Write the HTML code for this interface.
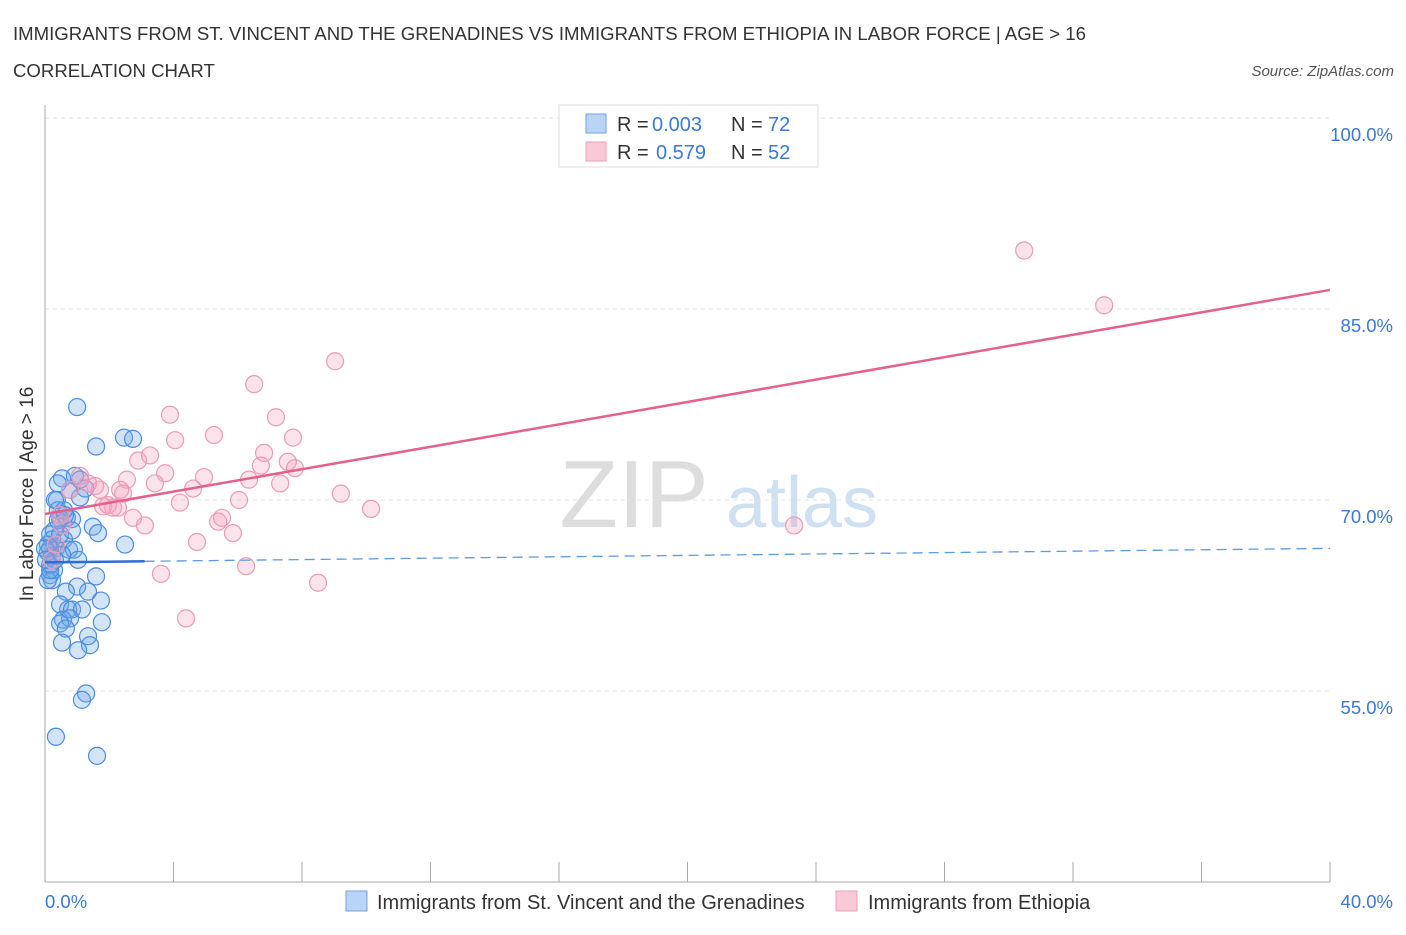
<!DOCTYPE html>
<html><head><meta charset="utf-8"><style>
body{margin:0;background:#fff;font-family:"Liberation Sans",sans-serif;}
svg text{font-family:"Liberation Sans",sans-serif;}
</style></head><body>
<svg id="chart" width="1406" height="930">
<text x="13" y="40" font-size="18.6" fill="#333">IMMIGRANTS FROM ST. VINCENT AND THE GRENADINES VS IMMIGRANTS FROM ETHIOPIA IN LABOR FORCE | AGE &gt; 16</text>
<text x="13" y="77" font-size="18.6" fill="#333">CORRELATION CHART</text>
<text x="1394" y="76" font-size="15" fill="#555" font-style="italic" text-anchor="end">Source: ZipAtlas.com</text>
<text x="634" y="527" font-size="96" fill="#ddd" font-family="Liberation Serif" text-anchor="middle">ZIP</text>
<text x="802" y="527" font-size="72" fill="#cfe0f3" text-anchor="middle">atlas</text>
<g id="grid"></g>
<g id="axes"></g>
<g id="marks"></g>
<text transform="translate(33,494) rotate(-90)" font-size="19" fill="#333" text-anchor="middle">In Labor Force | Age &gt; 16</text>
<text x="45" y="908" font-size="18.5" fill="#3b78d8">0.0%</text>
<text x="1393" y="908" font-size="18.5" fill="#3b78d8" text-anchor="end">40.0%</text>
<g>
<rect x="559" y="105" width="259" height="62" fill="#fff" stroke="#ddd"/>
<rect x="586" y="114" width="20" height="19" fill="#b9d4f5" stroke="#6fa3e3"/>
<rect x="586" y="142" width="20" height="19" fill="#f9c9d8" stroke="#ee9db8"/>
<text x="617" y="131" font-size="20" fill="#333">R =</text>
<text x="652" y="131" font-size="20" fill="#3b78d8">0.003</text>
<text x="731" y="131" font-size="20" fill="#333">N =</text>
<text x="768" y="131" font-size="20" fill="#3b78d8">72</text>
<text x="617" y="159" font-size="20" fill="#333">R =</text>
<text x="656" y="159" font-size="20" fill="#3b78d8">0.579</text>
<text x="731" y="159" font-size="20" fill="#333">N =</text>
<text x="768" y="159" font-size="20" fill="#3b78d8">52</text>
</g>
<g>
<rect x="346" y="891" width="21" height="20" fill="#b9d4f5" stroke="#6fa3e3"/>
<text x="377" y="909" font-size="20" fill="#333">Immigrants from St. Vincent and the Grenadines</text>
<rect x="836" y="891" width="21" height="20" fill="#f9c9d8" stroke="#ee9db8"/>
<text x="868" y="909" font-size="20" fill="#333">Immigrants from Ethiopia</text>
</g>
</svg>
<script>
const blueX=[1.00,1.59,2.46,2.74,2.49,0.53,0.40,0.93,0.37,1.09,0.68,0.84,0.40,0.47,0.28,0.22,0.34,0.59,0.75,0.90,1.49,1.65,0.16,0.22,0.16,0.28,0.16,0.22,1.59,1.00,0.65,1.34,1.74,0.47,0.72,0.84,1.15,0.56,0.78,0.47,0.65,1.77,1.34,1.40,0.53,1.03,1.28,1.15,0.34,1.62,0.09,0.09,0.16,0.40,0.59,0.78,1.09,1.25,0.31,0.47,0.09,0.16,0.53,0.0,0.03,0.31,0.62,0.84,1.03];
const blueY=[77.3,74.2,74.9,74.8,66.5,71.7,71.3,71.9,70.0,70.2,68.6,68.5,69.2,68.5,67.6,66.9,66.2,66.9,66.1,66.1,67.9,67.4,66.2,65.6,64.9,64.5,64.1,63.7,64.0,63.2,62.8,62.8,62.1,61.8,61.4,61.4,61.4,60.6,60.7,60.3,59.9,60.4,59.3,58.6,58.8,58.2,54.8,54.3,51.4,49.9,66.5,65.9,67.3,68.4,69.2,70.8,71.6,70.9,65.3,67.3,63.7,64.5,65.7,66.2,65.3,70.0,68.8,67.6,65.3];
const pinkX=[9.03,6.51,3.89,7.19,4.05,5.26,7.72,2.90,3.27,3.74,2.55,3.42,4.95,6.35,6.82,6.72,7.56,7.78,7.32,4.61,6.04,4.20,2.43,9.21,10.15,2.74,3.11,5.51,5.39,5.85,4.73,6.26,8.50,3.61,4.39,1.81,2.12,2.27,30.48,32.97,23.32,1.09,1.34,1.71,0.78,0.47,0.34,0.53,1.56,1.96,0.22,2.34];
const pinkY=[80.9,79.1,76.7,76.5,74.7,75.1,74.9,73.1,73.5,72.1,71.6,71.3,71.8,71.6,73.7,72.7,73.0,72.5,71.3,70.9,70.0,69.8,70.5,70.5,69.3,68.6,68.0,68.6,68.3,67.4,66.7,64.8,63.5,64.2,60.7,69.5,69.4,69.4,89.6,85.3,68.0,71.9,71.3,70.8,70.8,68.8,66.5,68.0,71.1,69.6,65.3,70.8];
const yTicks=[100,85,70,55];
const yTickLabels=["100.0%","85.0%","70.0%","55.0%"];
const xTicks=[0,4,8,12,16,20,24,28,32,36,40];
const blueTrend=[65.1,66.2];
const pinkTrend=[68.9,86.5];
const NS="http://www.w3.org/2000/svg";
function sx(v){return 45+v/40*1285;}
function sy(v){return 500-(v-70)*12.73;}
function mk(tag,attrs,parent){const e=document.createElementNS(NS,tag);for(const k in attrs)e.setAttribute(k,attrs[k]);parent.appendChild(e);return e;}
const grid=document.getElementById('grid'),axes=document.getElementById('axes'),marks=document.getElementById('marks');
yTicks.forEach((t,i)=>{
 const l=mk('line',{x1:45,x2:1330,y1:sy(t),y2:sy(t),stroke:'#e3e3e3','stroke-dasharray':'4,4'},grid);
 
 
 const tx=mk('text',{x:1393,y:sy(t)+23,'font-size':18.5,fill:'#3b78d8','text-anchor':'end'},grid);
 tx.textContent=yTickLabels[i];
 
 
});
const ya=mk('line',{x1:45,x2:45,y1:105,y2:882,stroke:'#aaa'},axes);


const xa=mk('line',{x1:45,x2:1330,y1:882,y2:882,stroke:'#aaa'},axes);


xTicks.forEach(t=>{
 const l=mk('line',{x1:sx(t),x2:sx(t),y1:862,y2:882,stroke:'#aaa'},axes);
 
 
});
blueX.forEach((x,i)=>{
 const c=mk('circle',{cx:sx(x),cy:sy(blueY[i]),r:8.5,fill:'rgba(110,165,232,0.3)',stroke:'#4a8de0','stroke-width':1.2},marks);
 
 
});
pinkX.forEach((x,i)=>{
 const c=mk('circle',{cx:sx(x),cy:sy(pinkY[i]),r:8.5,fill:'rgba(244,160,190,0.3)',stroke:'#eb9bb7','stroke-width':1.2},marks);
 
 
});
const bAt=x=>blueTrend[0]+(blueTrend[1]-blueTrend[0])*x/40;
const bd=mk('line',{x1:sx(3.1),y1:sy(bAt(3.1)),x2:sx(40),y2:sy(bAt(40)),stroke:'#5b9be2','stroke-width':1.3,'stroke-dasharray':'10,6'},marks);


const bs=mk('line',{x1:sx(0),y1:sy(bAt(0)),x2:sx(3.1),y2:sy(bAt(3.1)),stroke:'#2a6fd6','stroke-width':2.5},marks);


const pl=mk('line',{x1:sx(0),y1:sy(pinkTrend[0]),x2:sx(40),y2:sy(pinkTrend[1]),stroke:'#e5608e','stroke-width':2.5},marks);


</script>
</body></html>
